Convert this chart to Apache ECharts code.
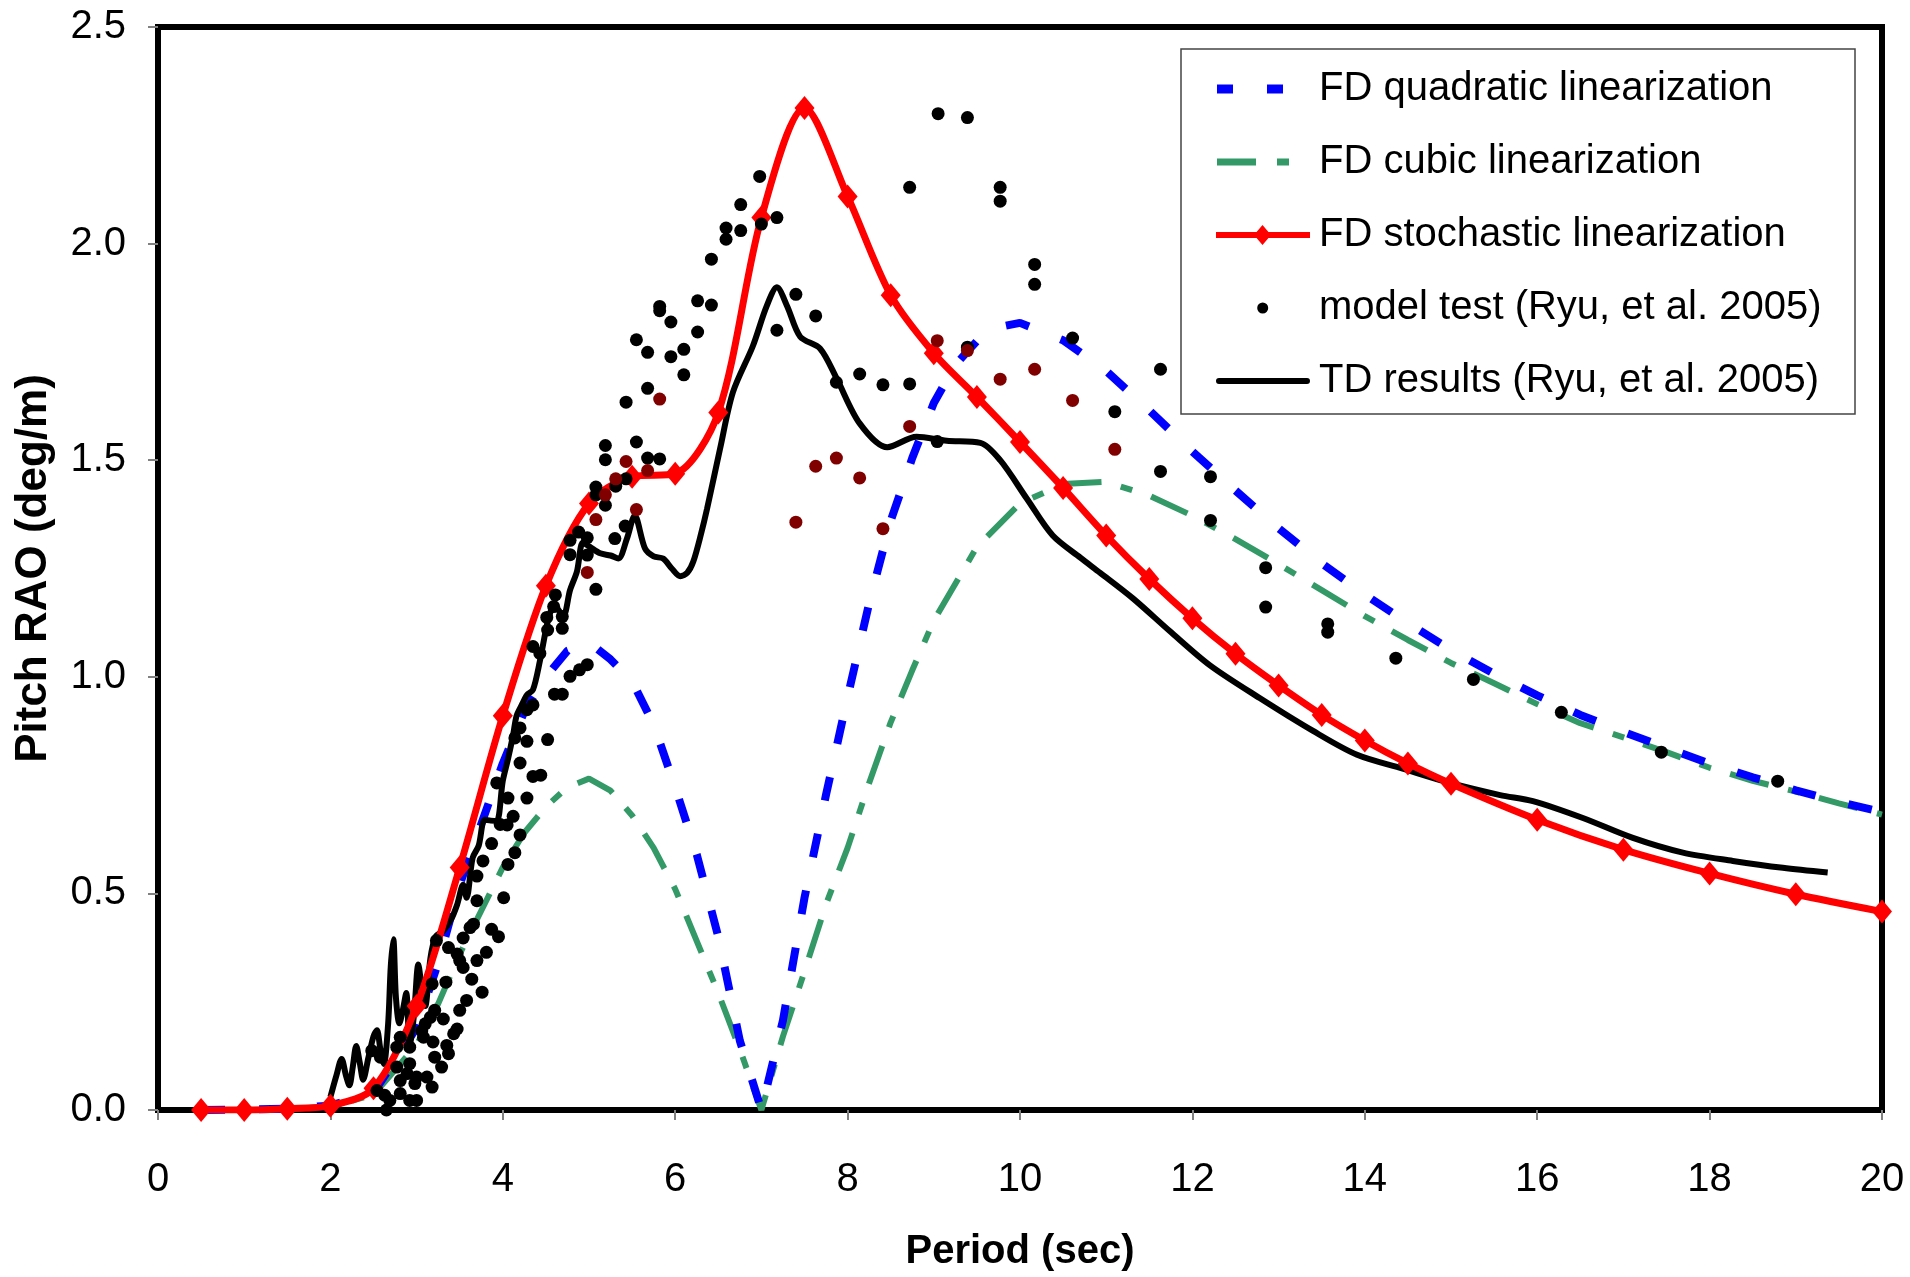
<!DOCTYPE html>
<html>
<head>
<meta charset="utf-8">
<title>Pitch RAO</title>
<script src="https://cdn.jsdelivr.net/npm/echarts@6/dist/echarts.min.js"></script>
<style>
  html, body { margin: 0; padding: 0; background: #fff; }
  #pitchRao { width: 1910px; height: 1277px; }
</style>
</head>
<body>
<div id="pitchRao"></div>
<script>
// period (sec) vs pitch RAO (deg/m)

const quadX = [0.5, 1, 1.5, 2, 2.5, 3, 3.25, 3.5, 3.75, 4, 4.25, 4.5, 4.75, 5, 5.25, 5.5, 5.75, 6, 6.25, 6.5, 6.75, 7,
  7.25, 7.5, 7.75, 8, 8.25, 8.5, 8.75, 9, 9.25, 9.5, 9.75, 10, 10.5, 11, 11.5, 12, 12.5, 13, 13.5, 14, 14.5, 15,
  15.5, 16, 16.5, 17, 17.5, 18, 18.5, 19, 19.5, 20];
const quadY = [0, 0.001, 0.003, 0.01, 0.04, 0.19, 0.34, 0.52, 0.66, 0.80, 0.92, 1.0, 1.06, 1.08, 1.04, 0.99, 0.89, 0.745, 0.59, 0.40, 0.16, 0,
  0.207, 0.49, 0.728, 0.953, 1.17, 1.36, 1.505, 1.632, 1.72, 1.775, 1.807, 1.817, 1.777, 1.706, 1.615, 1.52, 1.43, 1.343, 1.262, 1.19, 1.124, 1.062,
  1.007, 0.957, 0.912, 0.873, 0.836, 0.80, 0.768, 0.738, 0.711, 0.688];

const cubicX = [0.5, 1, 1.5, 2, 2.5, 3, 3.25, 3.5, 3.75, 4, 4.25, 4.5, 4.75, 5, 5.25, 5.5, 5.75, 6, 6.25, 6.5, 6.75, 7,
  7.25, 7.5, 7.75, 8, 8.25, 8.5, 8.75, 9, 9.5, 10, 10.5, 11, 11.5, 12, 12.5, 13, 13.5, 14, 14.5, 15,
  15.5, 16, 16.5, 17, 17.5, 18, 18.5, 19, 19.5, 20];
const cubicY = [0, 0, 0.002, 0.008, 0.035, 0.15, 0.245, 0.36, 0.46, 0.56, 0.64, 0.70, 0.745, 0.765, 0.737, 0.68, 0.605, 0.51, 0.39, 0.27, 0.14, 0,
  0.17, 0.32, 0.475, 0.605, 0.755, 0.895, 1.015, 1.13, 1.30, 1.40, 1.445, 1.45, 1.418, 1.372, 1.318, 1.26, 1.20, 1.14, 1.085, 1.032,
  0.985, 0.937, 0.893, 0.86, 0.826, 0.79, 0.76, 0.735, 0.708, 0.682];

const stochX = [0.5, 1, 1.5, 2, 2.5, 3, 3.5, 4, 4.5, 5, 5.5, 6, 6.5, 7, 7.5, 8, 8.5, 9, 9.5, 10, 10.5, 11, 11.5, 12,
  12.5, 13, 13.5, 14, 14.5, 15, 16, 17, 18, 19, 20];
const stochY = [0, 0, 0.003, 0.01, 0.05, 0.24, 0.56, 0.91, 1.21, 1.40, 1.462, 1.469, 1.61, 2.06, 2.313, 2.109, 1.881, 1.747, 1.646, 1.542, 1.436, 1.326, 1.226, 1.135,
  1.053, 0.98, 0.912, 0.853, 0.80, 0.753, 0.67, 0.601, 0.546, 0.498, 0.458];

const tdX = [2.0, 2.07, 2.13, 2.18, 2.22, 2.26, 2.30, 2.34, 2.38, 2.44, 2.50, 2.54, 2.58, 2.62, 2.67, 2.70, 2.73, 2.76, 2.80, 2.84,
  2.88, 2.92, 2.97, 3.02, 3.06, 3.10, 3.16, 3.22, 3.31, 3.40, 3.47, 3.54, 3.58, 3.65, 3.72, 3.79, 3.86, 3.93, 4.00, 4.06,
  4.12, 4.16, 4.22, 4.28, 4.35, 4.43, 4.53, 4.60, 4.70, 4.78, 4.86, 4.93, 5.01, 5.13, 5.25, 5.34, 5.44, 5.53, 5.65, 5.75,
  5.86, 5.96, 6.06, 6.14, 6.21, 6.30, 6.37, 6.52, 6.67, 6.90, 7.06, 7.18, 7.30, 7.45, 7.68, 7.87, 8.14, 8.46, 8.80, 9.15,
  9.54, 9.77, 10.08, 10.38, 10.70, 10.93, 11.31, 11.74, 12.20, 12.78, 13.40, 13.91, 14.44, 14.99, 15.57, 15.95, 16.53, 17.11,
  17.69, 18.27, 18.85, 19.37];
const tdY = [0.03, 0.08, 0.118, 0.08, 0.057, 0.10, 0.148, 0.11, 0.07, 0.12, 0.17, 0.184, 0.14, 0.106, 0.20, 0.33, 0.394, 0.26, 0.20, 0.23,
  0.27, 0.15, 0.22, 0.336, 0.28, 0.24, 0.35, 0.40, 0.414, 0.44, 0.474, 0.52, 0.49, 0.582, 0.61, 0.67, 0.668, 0.667, 0.76, 0.81,
  0.866, 0.91, 0.935, 0.958, 0.97, 1.036, 1.135, 1.165, 1.14, 1.20, 1.243, 1.31, 1.30, 1.285, 1.28, 1.273, 1.319, 1.372, 1.296, 1.278,
  1.273, 1.25, 1.232, 1.24, 1.266, 1.33, 1.388, 1.526, 1.657, 1.763, 1.855, 1.899, 1.855, 1.785, 1.758, 1.69, 1.585, 1.53, 1.554, 1.545,
  1.54, 1.50, 1.411, 1.326, 1.275, 1.24, 1.181, 1.105, 1.027, 0.951, 0.875, 0.82, 0.788, 0.755, 0.727, 0.713, 0.674, 0.628,
  0.594, 0.575, 0.559, 0.548];

const testX = [2.48, 2.54, 2.58, 2.63, 2.65, 2.69, 2.77, 2.77, 2.81, 2.81, 2.81, 2.89, 2.92, 2.92, 2.92, 2.98, 3.0, 3.0, 3.06, 3.08,
  3.10, 3.12, 3.16, 3.18, 3.18, 3.19, 3.21, 3.21, 3.23, 3.29, 3.31, 3.34, 3.35, 3.37, 3.37, 3.43, 3.47, 3.47, 3.50, 3.50,
  3.54, 3.54, 3.58, 3.62, 3.64, 3.66, 3.70, 3.70, 3.70, 3.76, 3.77, 3.81, 3.87, 3.87, 3.93, 3.95, 3.97, 4.01, 4.05, 4.06,
  4.06, 4.12, 4.14, 4.14, 4.20, 4.20, 4.20, 4.28, 4.28, 4.28, 4.35, 4.35, 4.35, 4.43, 4.44, 4.51, 4.52, 4.52, 4.59, 4.60,
  4.61, 4.69, 4.69, 4.69, 4.78, 4.78, 4.78, 4.88, 4.89, 4.98, 4.98, 4.98, 5.08, 5.08, 5.08, 5.19, 5.19, 5.19, 5.30, 5.31,
  5.42, 5.43, 5.43, 5.55, 5.55, 5.68, 5.68, 5.68, 5.82, 5.82, 5.82, 5.95, 5.95, 6.10, 6.10, 6.26, 6.26, 6.42, 6.42, 6.59,
  6.59, 6.76, 6.76, 6.98, 7.0, 7.18, 7.18, 7.40, 7.63, 7.87, 8.14, 8.41, 8.72, 8.72, 9.04, 9.05, 9.39, 9.39, 9.77, 9.77,
  10.17, 10.17, 10.61, 11.10, 11.63, 11.63, 12.21, 12.21, 12.85, 12.85, 13.57, 13.57, 14.36, 15.26, 16.28, 17.44, 18.79];
const testY = [0.137, 0.045, 0.122, 0.034, 0.0, 0.022, 0.099, 0.145, 0.038, 0.068, 0.168, 0.084, 0.022, 0.107, 0.145, 0.061, 0.022, 0.076, 0.183, 0.168,
  0.199, 0.076, 0.214, 0.053, 0.291, 0.157, 0.122, 0.23, 0.391, 0.099, 0.21, 0.295, 0.149, 0.13, 0.375, 0.176, 0.187, 0.36, 0.23, 0.345,
  0.329, 0.397, 0.253, 0.421, 0.302, 0.429, 0.345, 0.483, 0.54, 0.272, 0.575, 0.364, 0.417, 0.615, 0.755, 0.40, 0.659, 0.49, 0.658, 0.567,
  0.72, 0.678, 0.594, 0.859, 0.635, 0.801, 0.882, 0.72, 0.851, 0.924, 0.77, 0.935, 1.07, 1.054, 0.773, 1.137, 0.855, 1.108, 1.162, 0.96,
  1.189, 0.96, 1.112, 1.139, 1.001, 1.282, 1.315, 1.334, 1.016, 1.028, 1.281, 1.321, 1.202, 1.42, 1.438, 1.396, 1.501, 1.534, 1.319, 1.44,
  1.348, 1.457, 1.634, 1.542, 1.778, 1.505, 1.666, 1.749, 1.503, 1.845, 1.855, 1.739, 1.819, 1.697, 1.756, 1.796, 1.868, 1.858, 1.964, 2.01,
  2.036, 2.03, 2.09, 2.155, 2.045, 2.06, 1.80, 1.883, 1.833, 1.68, 1.699, 1.674, 1.676, 2.13, 1.543, 2.30, 1.761, 2.291, 2.13, 2.098,
  1.952, 1.906, 1.782, 1.612, 1.71, 1.474, 1.462, 1.361, 1.252, 1.161, 1.122, 1.103, 1.043, 0.994, 0.918, 0.826, 0.759];

// second set of test points, drawn in dark red in the original
const test2X = [4.98, 5.08, 5.19, 5.31, 5.43, 5.55, 5.68, 5.82, 7.40, 7.63, 7.87, 8.14, 8.41, 8.72, 9.04, 9.39, 9.77, 10.17, 10.61, 11.10];
const test2Y = [1.241, 1.363, 1.42, 1.457, 1.497, 1.386, 1.476, 1.641, 1.357, 1.486, 1.505, 1.459, 1.342, 1.578, 1.776, 1.753, 1.687, 1.71, 1.638, 1.525];

const xTicks = { min: 0, max: 20, interval: 2 };
const yTicks = { min: 0, max: 2.5, interval: 0.5 };

function pairs(xs, ys) {
  return xs.map((x, i) => [x, ys[i]]);
}

const font = "'Liberation Sans', Arial, sans-serif";

// legend icons, drawn in a 94 x 20 box (tiny corner squares fix the box)
const corners = "M0,0h0.01v0.01h-0.01z M93.99,19.99h0.01v0.01h-0.01z ";
const blueIcon = "path://" + corners + "M1,5.5h16v9h-16z M51,5.5h16v9h-16z";
const greenIcon = "path://" + corners + "M1,6.5h39v7h-39z M61,6.5h12v7h-12z";
const redIcon = "path://" + corners + "M0,7h94v6h-94z M46.5,0l8.5,10l-8.5,10l-8.5,-10z";
const dotIcon = "path://" + corners + "M41.2,10a5.5,5.5 0 1,0 11,0a5.5,5.5 0 1,0 -11,0z";
const lineIcon = "path://" + corners + "M3,7h88a3,3 0 0,1 0,6h-88a3,3 0 0,1 0,-6z";

let chart = echarts.init(document.getElementById("pitchRao"));

let option = {
  animation: false,
  backgroundColor: "#fff",
  grid: {
    left: 158,
    right: 28,
    top: 27,
    bottom: 164,
    show: true,
    borderColor: "#000",
    borderWidth: 6
  },
  xAxis: {
    type: "value",
    min: xTicks.min,
    max: xTicks.max,
    interval: xTicks.interval,
    name: "Period (sec)",
    nameLocation: "middle",
    nameGap: 122,
    nameTextStyle: { fontFamily: font, fontSize: 40, fontWeight: "bold", color: "#000" },
    axisLine: { show: true, lineStyle: { color: "#000", width: 6 } },
    axisTick: { show: true, inside: false, length: 10, lineStyle: { color: "#808080", width: 2 } },
    axisLabel: { fontFamily: font, fontSize: 40, color: "#000", margin: 50 },
    splitLine: { show: false }
  },
  yAxis: {
    type: "value",
    min: yTicks.min,
    max: yTicks.max,
    interval: yTicks.interval,
    name: "Pitch RAO (deg/m)",
    nameLocation: "middle",
    nameGap: 102,
    nameTextStyle: { fontFamily: font, fontSize: 44, fontWeight: "bold", color: "#000" },
    axisLine: { show: true, lineStyle: { color: "#000", width: 6 } },
    axisTick: { show: true, inside: false, length: 10, lineStyle: { color: "#808080", width: 2 } },
    axisLabel: {
      fontFamily: font,
      fontSize: 40,
      color: "#000",
      margin: 32,
      formatter: function(v) {
        return v.toFixed(1);
      }
    },
    splitLine: { show: false }
  },
  graphic: [
    {
      type: "rect",
      shape: { x: 1181, y: 49, width: 674, height: 365 },
      style: { fill: "#fff", stroke: "#444", lineWidth: 1.5 },
      z: 10
    }
  ],
  legend: {
    orient: "vertical",
    left: 1216,
    top: 64,
    itemWidth: 94,
    itemHeight: 20,
    itemGap: 23,
    padding: 0,
    z: 11,
    selectedMode: false,
    textStyle: { fontFamily: font, fontSize: 40, color: "#000", lineHeight: 44, padding: [6, 0, 0, 4] },
    data: [
      { name: "FD quadratic linearization", icon: blueIcon, itemStyle: { color: "#0000ff", borderWidth: 0 } },
      { name: "FD cubic linearization", icon: greenIcon, itemStyle: { color: "#339966", borderWidth: 0 } },
      { name: "FD stochastic linearization", icon: redIcon, itemStyle: { color: "#ff0000", borderWidth: 0 } },
      { name: "model test (Ryu, et al. 2005)", icon: dotIcon, itemStyle: { color: "#000", borderWidth: 0 } },
      { name: "TD results (Ryu, et al. 2005)", icon: lineIcon, itemStyle: { color: "#000", borderWidth: 0 } }
    ]
  },
  series: [
    {
      name: "FD cubic linearization",
      type: "line",
      data: pairs(cubicX, cubicY),
      symbol: "none",
      itemStyle: { color: "#339966" },
      lineStyle: { color: "#339966", width: 6, type: [40, 20, 12, 20], cap: "butt" },
      z: 2
    },
    {
      name: "FD quadratic linearization",
      type: "line",
      data: pairs(quadX, quadY),
      symbol: "none",
      itemStyle: { color: "#0000ff" },
      lineStyle: { color: "#0000ff", width: 8, type: [24, 34], cap: "butt" },
      z: 3
    },
    {
      name: "TD results (Ryu, et al. 2005)",
      type: "line",
      data: pairs(tdX, tdY),
      symbol: "none",
      smooth: 0.3,
      itemStyle: { color: "#000" },
      lineStyle: { color: "#000", width: 6 },
      z: 4
    },
    {
      name: "FD stochastic linearization",
      type: "line",
      data: pairs(stochX, stochY),
      symbol: "diamond",
      symbolSize: [20, 24],
      smooth: 0.3,
      itemStyle: { color: "#ff0000" },
      lineStyle: { color: "#ff0000", width: 7 },
      z: 5
    },
    {
      name: "model test (Ryu, et al. 2005)",
      type: "scatter",
      data: pairs(testX, testY),
      symbolSize: 13,
      itemStyle: { color: "#000", opacity: 1 },
      z: 6
    },
    {
      name: "model test 2",
      type: "scatter",
      data: pairs(test2X, test2Y),
      symbolSize: 13,
      itemStyle: { color: "#800000", opacity: 1 },
      z: 6
    }
  ]
};

chart.setOption(option);
</script>
</body>
</html>
